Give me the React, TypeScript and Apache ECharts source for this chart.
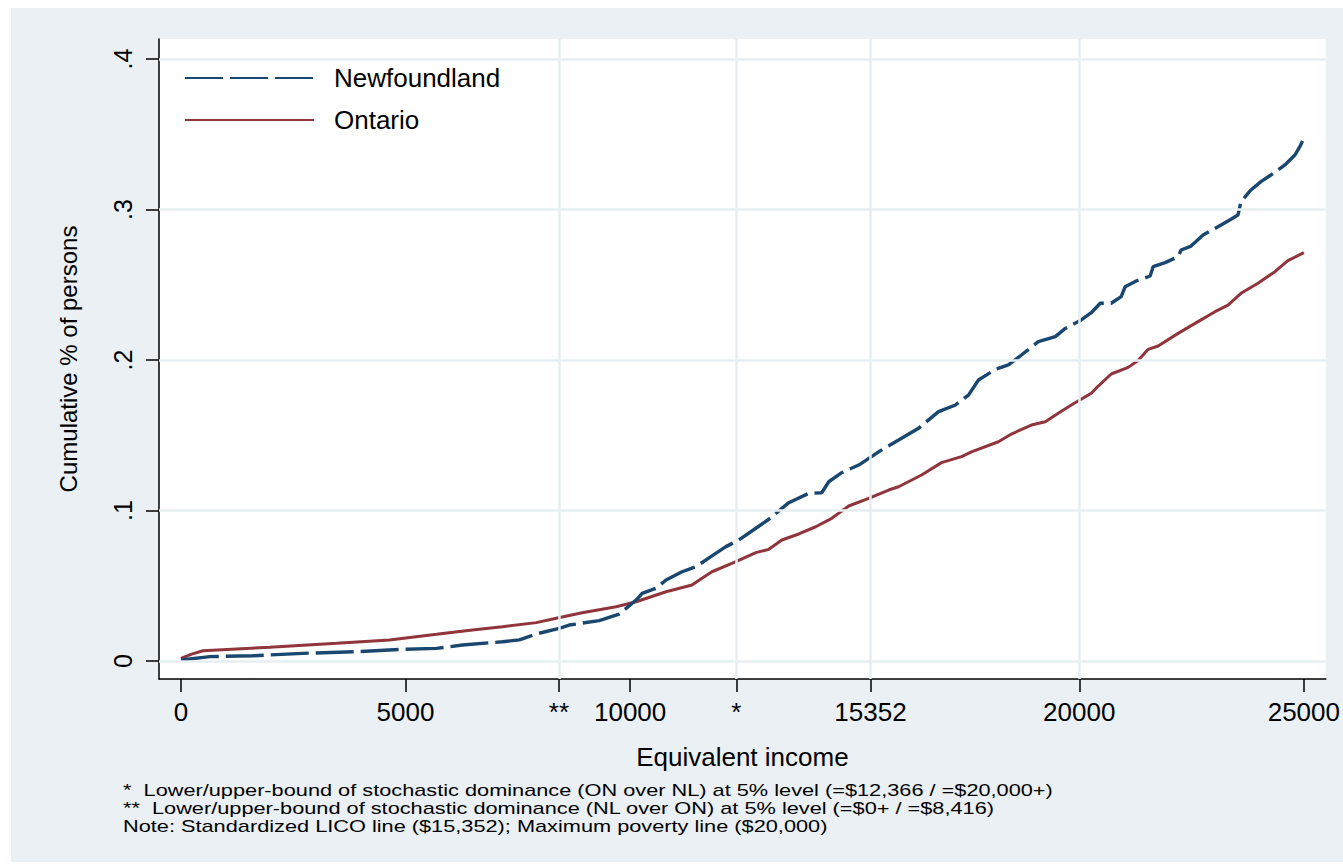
import React, { useEffect, useRef } from 'react';
import * as echarts from 'echarts';

const FONT = '"Liberation Sans", Arial, Helvetica, sans-serif';

// Newfoundland (blue dashed)
const nlIncome = [0, 644, 1600, 2711, 3911, 4933, 5689, 6267, 7156, 7533, 7911, 8422, 8644, 9311, 9756, 9911, 10133, 10267, 10578, 10800, 11156, 11467, 11822, 12133, 12422, 12800, 13089, 13533, 13978, 14267, 14422, 14711, 15089, 15533, 15978, 16422, 16867, 17244, 17533, 17756, 18133, 18422, 18711, 19089, 19467, 19689, 20044, 20267, 20467, 20711, 20933, 21022, 21267, 21578, 21644, 21911, 22200, 22267, 22489, 22756, 23089, 23378, 23533, 23600, 23822, 24044, 24267, 24578, 24800, 24911, 25000];
const nlShare = [0.0007, 0.0029, 0.0035, 0.0051, 0.0062, 0.0078, 0.0084, 0.0106, 0.0128, 0.014, 0.018, 0.0217, 0.0239, 0.0268, 0.0312, 0.035, 0.0405, 0.045, 0.0483, 0.0538, 0.0593, 0.0627, 0.0698, 0.076, 0.0804, 0.0882, 0.0942, 0.1052, 0.1114, 0.1118, 0.1191, 0.1251, 0.1302, 0.139, 0.1468, 0.1546, 0.1657, 0.1701, 0.1767, 0.1867, 0.1938, 0.1967, 0.2033, 0.2122, 0.2155, 0.221, 0.2266, 0.2314, 0.2377, 0.2377, 0.2421, 0.2487, 0.2525, 0.2558, 0.262, 0.2647, 0.2686, 0.2731, 0.2757, 0.283, 0.2886, 0.2935, 0.2963, 0.3052, 0.313, 0.3185, 0.3229, 0.3296, 0.3362, 0.3417, 0.3473];

// Ontario (red solid)
const onIncome = [0, 238, 489, 1978, 3467, 4644, 5689, 6489, 7156, 7911, 8356, 8933, 9689, 10133, 10800, 11378, 11600, 11822, 12356, 12800, 13089, 13378, 13756, 14133, 14489, 14867, 15311, 15756, 15978, 16489, 16933, 17378, 17600, 18200, 18489, 18933, 19244, 19533, 19822, 20267, 20422, 20711, 21089, 21311, 21533, 21756, 22200, 22644, 23022, 23311, 23600, 23978, 24356, 24644, 25000];
const onShare = [0.0018, 0.0046, 0.0068, 0.0091, 0.0118, 0.014, 0.0177, 0.0206, 0.0228, 0.0255, 0.0284, 0.0321, 0.0361, 0.0394, 0.046, 0.0505, 0.055, 0.0593, 0.066, 0.072, 0.0742, 0.0804, 0.0844, 0.0892, 0.0948, 0.103, 0.108, 0.1136, 0.1158, 0.1236, 0.1318, 0.1358, 0.139, 0.1457, 0.1508, 0.1568, 0.159, 0.1646, 0.1701, 0.1779, 0.1827, 0.1907, 0.1951, 0.1996, 0.2071, 0.2093, 0.2177, 0.2255, 0.2321, 0.2365, 0.2443, 0.251, 0.2587, 0.266, 0.2713];

const xTickValues = [0, 5000, 8416, 10000, 12366, 15352, 20000, 25000];
const xTickLabels = ['0', '5000', '**', '10000', '*', '15352', '20000', '25000'];
const yTickValues = [0, 0.1, 0.2, 0.3, 0.4];
const yTickLabels = ['0', '.1', '.2', '.3', '.4'];
const xGridValues = [8416, 12366, 15352, 20000];
const yGridValues = [0, 0.1, 0.2, 0.3, 0.4];

const seriesNames = ['Newfoundland', 'Ontario'];
const noteLines = [
  '*  Lower/upper-bound of stochastic dominance (ON over NL) at 5% level (=$12,366 / =$20,000+)',
  '**  Lower/upper-bound of stochastic dominance (NL over ON) at 5% level (=$0+ / =$8,416)',
  'Note: Standardized LICO line ($15,352); Maximum poverty line ($20,000)',
];

const BG = '#eaf0f3';
const GRID = '#e7eef1';
const BLUE = '#1a476f';
const RED = '#90353b';

export default function App() {
  const ref = useRef<HTMLDivElement>(null);
  useEffect(() => {
    if (!ref.current) return;
    const chart = echarts.init(ref.current, undefined, { renderer: 'svg' });
    const labelFor = (vals: number[], labels: string[]) => (v: number) => {
      const i = vals.findIndex((t) => Math.abs(t - v) < 1e-6);
      return i >= 0 ? labels[i] : '';
    };
    chart.setOption({
      animation: false,
      backgroundColor: BG,
      textStyle: { fontFamily: FONT },
      grid: {
        left: 148,
        top: 31,
        right: 15,
        bottom: 183,
        show: true,
        backgroundColor: '#ffffff',
        borderWidth: 0,
        containLabel: false,
      },
      legend: {
        data: seriesNames,
        orient: 'vertical',
        left: 159,
        top: 33,
        padding: [24, 18, 16, 14],
        backgroundColor: '#ffffff',
        itemWidth: 129,
        itemHeight: 26,
        itemGap: 16,
        selectedMode: false,
        itemStyle: { opacity: 0, borderWidth: 0 },
        textStyle: { fontSize: 26, color: '#000', fontFamily: FONT, padding: [0, 0, 0, 15] },
      },
      xAxis: {
        type: 'value',
        min: -489,
        max: 25489,
        axisLine: { show: true, onZero: false, lineStyle: { color: '#000', width: 1.5 } },
        axisTick: { show: true, customValues: xTickValues, length: 13, lineStyle: { color: '#000', width: 1.5 } },
        axisLabel: {
          customValues: xTickValues,
          formatter: labelFor(xTickValues, xTickLabels),
          fontSize: 26,
          color: '#000',
          fontFamily: FONT,
          margin: 20,
        },
        splitLine: { show: false },
        name: 'Equivalent income',
        nameLocation: 'middle',
        nameGap: 65,
        nameTextStyle: { fontSize: 26, color: '#000', fontFamily: FONT },
      },
      yAxis: {
        type: 'value',
        min: -0.01196,
        max: 0.41329,
        axisLine: { show: true, onZero: false, lineStyle: { color: '#000', width: 1.5 } },
        axisTick: { show: true, customValues: yTickValues, length: 13, lineStyle: { color: '#000', width: 1.5 } },
        axisLabel: {
          customValues: yTickValues,
          formatter: labelFor(yTickValues, yTickLabels),
          rotate: 90,
          fontSize: 25,
          color: '#000',
          fontFamily: FONT,
          margin: 24,
        },
        splitLine: { show: false },
        name: 'Cumulative % of persons',
        nameLocation: 'middle',
        nameRotate: 90,
        nameGap: 79,
        nameTextStyle: { fontSize: 24, color: '#000', fontFamily: FONT },
      },
      series: [
        {
          name: 'gridlines',
          type: 'line',
          data: [],
          silent: true,
          z: 1,
          markLine: {
            silent: true,
            symbol: ['none', 'none'],
            label: { show: false },
            lineStyle: { color: GRID, width: 2.5, type: 'solid' },
            data: [
              ...xGridValues.map((v) => ({ xAxis: v })),
              ...yGridValues.map((v) => ({ yAxis: v })),
            ],
          },
        },
        {
          name: seriesNames[0],
          type: 'line',
          z: 3,
          symbol: 'none',
          showSymbol: false,
          color: BLUE,
          lineStyle: { color: BLUE, width: 3.4, type: [38, 7] },
          data: nlIncome.map((x, i) => [x, nlShare[i]]),
        },
        {
          name: seriesNames[1],
          type: 'line',
          z: 2,
          symbol: 'none',
          showSymbol: false,
          color: RED,
          lineStyle: { color: RED, width: 3, type: 'solid' },
          data: onIncome.map((x, i) => [x, onShare[i]]),
        },
      ],
      graphic: [
        {
          type: 'group',
          x: 112,
          y: 783,
          scaleX: 1.36,
          children: noteLines.map((t, i) => ({
            type: 'text',
            x: 0,
            y: i * 18,
            style: {
              text: t,
              fontSize: 16,
              fontFamily: FONT,
              fill: '#000',
              verticalAlign: 'middle',
            },
          })),
        },
      ],
    });
    return () => chart.dispose();
  }, []);
  return (
    <div
      ref={ref}
      style={{ position: 'absolute', left: 11, top: 8, width: 1332, height: 854 }}
    />
  );
}
